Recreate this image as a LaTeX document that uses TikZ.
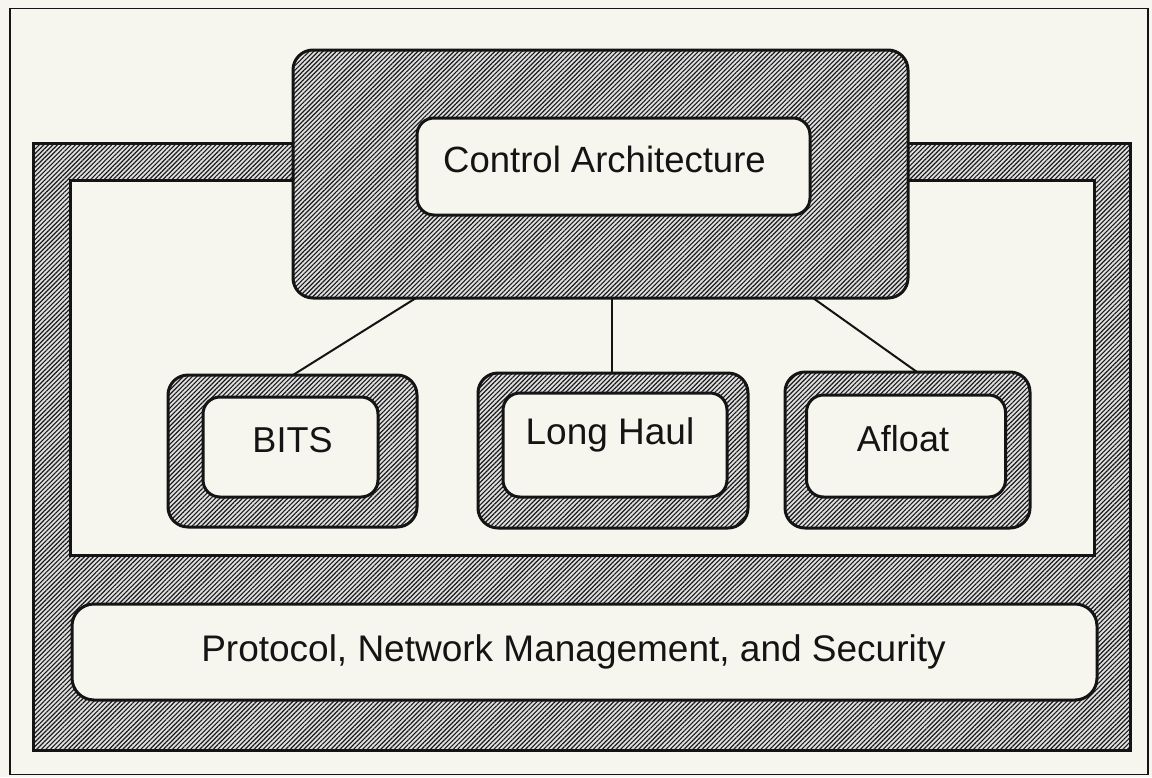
\documentclass[tikz,border=0pt]{standalone}
\usepackage{fontspec}
\setmainfont{Liberation Sans}
\usetikzlibrary{patterns.meta}
\definecolor{cream}{RGB}{247,246,238}
\definecolor{ink}{RGB}{20,20,20}
\tikzset{
  hatchfill/.style={preaction={fill=black!12},
    pattern={Lines[angle=45,distance=3.2pt,line width=1.15pt]}, pattern color=black!90},
  hatchbox/.style={draw=ink, line width=3pt, rounded corners=20pt, hatchfill,
    inner sep=0pt, outer sep=0pt},
  plainbox/.style={draw=ink, line width=3pt, rounded corners=17pt, fill=cream,
    inner sep=0pt, outer sep=0pt, text=ink},
  bandrect/.style={draw=ink, line width=3pt, hatchfill, inner sep=0pt, outer sep=0pt},
  holerect/.style={draw=ink, line width=3pt, fill=cream, inner sep=0pt, outer sep=0pt},
  link/.style={draw=ink, line width=2pt},
  lbl/.style={font=\fontsize{36}{40}\selectfont, text=ink, inner sep=0pt}
}
\begin{document}
\begin{tikzpicture}[x=1pt,y=-1pt]
\useasboundingbox (0,0) rectangle (1152,777);
\fill[cream] (0,0) rectangle (1152,777);
% thin outer frame
\node[draw=ink, line width=1.5pt, minimum width=1138pt, minimum height=766pt, inner sep=0pt] (frame) at (579,391.5) {};
% hatched band frame
\node[bandrect, minimum width=1097pt, minimum height=607pt] (band) at (581.5,446.5) {};
\node[holerect, minimum width=1024pt, minimum height=375pt] (hole) at (582,367.5) {};
% protocol box
\node[plainbox, rounded corners=22pt, minimum width=1025pt, minimum height=96pt,
  label={[lbl, font=\fontsize{37}{42}\selectfont, xshift=-11pt, yshift=0pt]center:Protocol, Network Management, and Security}] (proto) at (584.5,652) {};
% control architecture
\node[hatchbox, minimum width=615pt, minimum height=248pt] (ca) at (600.5,174) {};
\node[plainbox, minimum width=393pt, minimum height=97pt,
  label={[lbl, font=\fontsize{36.5}{40}\selectfont, xshift=-9pt, yshift=7pt]center:Control Architecture}] (cain) at (613.5,166.5) {};
% children
\node[hatchbox, minimum width=249pt, minimum height=152pt] (bits) at (292.5,451) {};
\node[plainbox, minimum width=175pt, minimum height=100pt,
  label={[lbl, xshift=2pt, yshift=7pt]center:BITS}] (bitsin) at (290.5,447) {};
\node[hatchbox, minimum width=270pt, minimum height=155pt] (lh) at (613,450.5) {};
\node[plainbox, minimum width=224pt, minimum height=104pt,
  label={[lbl, font=\fontsize{37}{40}\selectfont, xshift=-5pt, yshift=10pt]center:Long Haul}] (lhin) at (615,445) {};
\node[hatchbox, minimum width=245pt, minimum height=156pt] (af) at (907.5,450) {};
\node[plainbox, minimum width=199pt, minimum height=102pt,
  label={[lbl, xshift=-3pt, yshift=7pt]center:Afloat}] (afin) at (906,446) {};
% connectors
\draw[link] (ca.south -| 416,0) -- (bits.north -| 293,0);
\draw[link] (ca.south -| 612,0) -- (lh.north -| 612,0);
\draw[link] (ca.south -| 813,0) -- (af.north -| 917,0);
\end{tikzpicture}
\end{document}
